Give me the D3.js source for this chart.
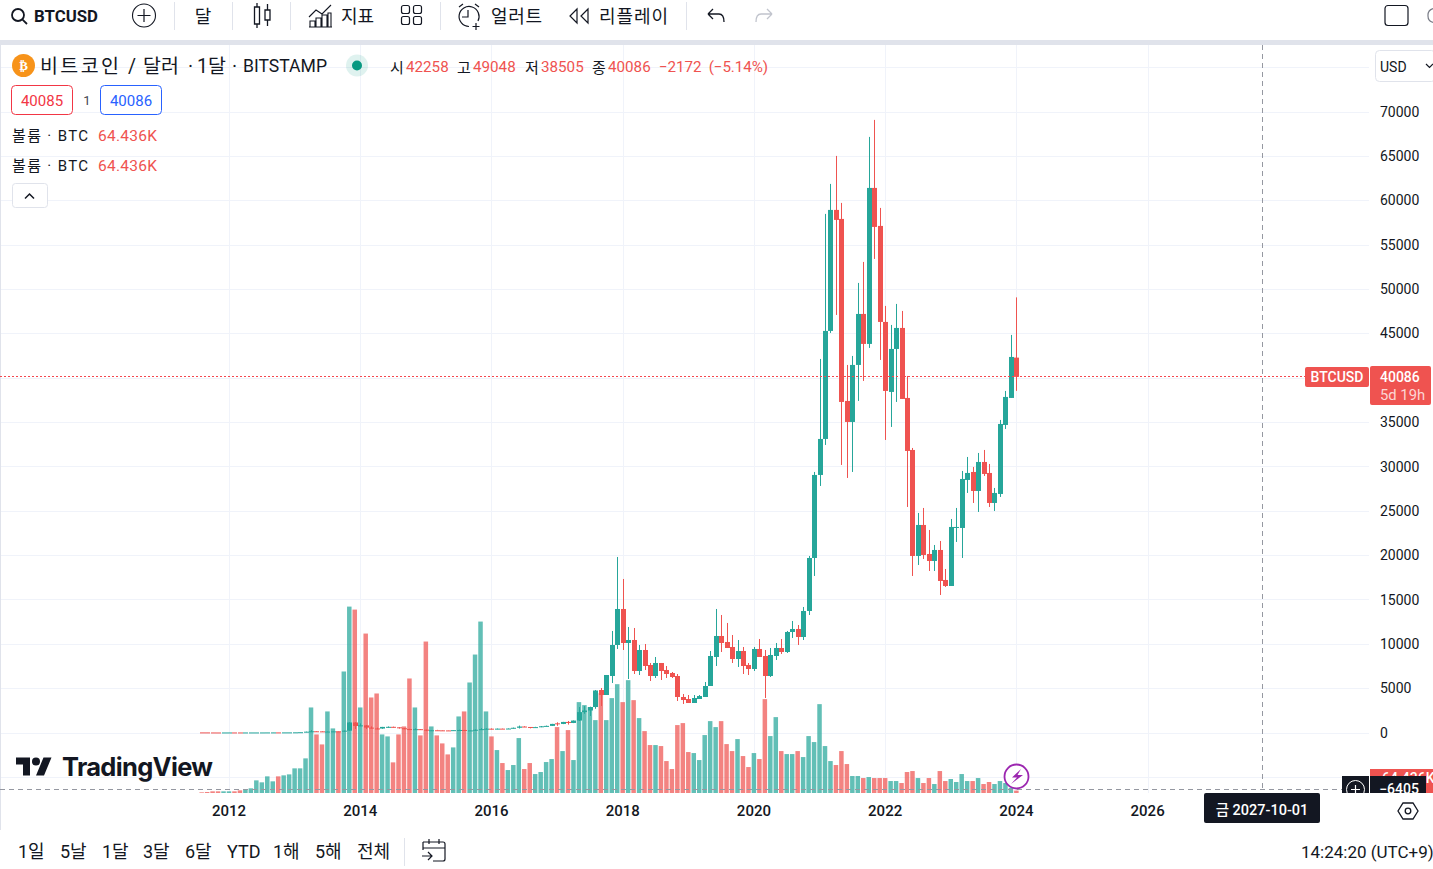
<!DOCTYPE html>
<html>
<head>
<meta charset="utf-8">
<script src="https://cdn.jsdelivr.net/npm/d3@7"></script>
<style>
  html, body { margin: 0; background: #fff; overflow: hidden; }
  svg { display: block; }
  text { font-family: Roboto, "Noto Sans CJK KR", sans-serif; fill: #131722; }
  .axis path, .axis line { display: none; }
</style>
</head>
<body>
<svg id="chart" width="1433" height="869"></svg>
<script>
// monthly BTCUSD candles, first one is 2011-08, last one is 2024-01
const opens = [
  11, 10, 5, 3, 3,
  5, 5.5, 4.9, 4.9, 5, 5.1, 5.2, 6.7, 9.3, 10.2, 10, 12.5,
  13.5, 20, 33, 93, 139, 129, 90, 105, 128, 127, 205, 1130,
  733, 805, 550, 458, 445, 630, 640, 585, 480, 388, 338, 375,
  318, 217, 254, 245, 236, 229, 264, 284, 229, 236, 311, 377,
  431, 368, 436, 416, 448, 532, 673, 622, 575, 608, 700, 745,
  1033, 965, 1190, 1075, 1348, 2300, 2480, 2870, 4791, 4227, 6369, 9864,
  13923, 10090, 10428, 6933, 9300, 7610, 6369, 7835, 7046, 6708, 6369, 4002,
  3776, 3325, 3776, 4002, 5242, 8511, 10879, 10202, 9639, 8286, 9188, 7610,
  7158, 9413, 8624, 6369, 8624, 9526, 9075, 11330, 11668, 10766, 13697, 19672,
  29030, 33089, 45265, 58906, 57891, 37373, 35005, 41432, 47180, 43800, 61386, 57102,
  46279, 38388, 43235, 45602, 37711, 31848, 19898, 23393, 20123, 19334, 20574, 17193,
  16516, 23055, 23055, 28466, 29368, 27226, 30495, 29256, 25873, 26888, 34667, 37711,
  42258
];
const highs = [
  12, 10, 5.5, 3.5, 5,
  7, 6.5, 5.5, 5.4, 5.3, 5.6, 7, 9.4, 15.4, 12.4, 13, 13.5,
  20, 32, 95, 266, 140, 130, 110, 130, 145, 215, 1163, 1163,
  1020, 850, 690, 550, 630, 680, 660, 600, 495, 420, 458, 385,
  320, 268, 300, 265, 255, 270, 317, 286, 247, 335, 500, 470,
  462, 448, 440, 470, 550, 780, 704, 620, 640, 730, 780, 975,
  1150, 1200, 1300, 1355, 2874, 2980, 2910, 4791, 5016, 6482, 11443, 19785,
  17305, 11894, 11781, 9864, 9977, 7835, 8511, 7835, 7497, 6820, 6595, 4340,
  4227, 4227, 4227, 5693, 9188, 13923, 13246, 12345, 10992, 10428, 9639, 7835,
  9639, 10541, 9300, 9526, 10090, 10541, 11443, 12570, 12119, 14149, 19898, 29370,
  42108, 58455, 61837, 64994, 59695, 41432, 42446, 50676, 53043, 67136, 69053, 59131,
  48083, 45941, 48309, 47519, 40191, 32074, 24746, 25310, 22829, 21138, 21589, 18432,
  24069, 25310, 29481, 31059, 29932, 31510, 31849, 30270, 27564, 35231, 38500, 44814,
  49048
];
const lows = [
  9, 4, 2, 2, 3,
  4, 4, 4.7, 4.8, 4.9, 5, 5.2, 6.5, 7, 9.6, 10, 10,
  13, 19, 33, 50, 80, 65, 65, 100, 110, 105, 205, 395,
  710, 400, 450, 355, 420, 525, 560, 440, 375, 275, 318, 305,
  150, 210, 235, 215, 226, 225, 253, 160, 225, 235, 305, 347,
  350, 361, 395, 406, 435, 450, 605, 465, 570, 600, 680, 740,
  750, 945, 890, 1060, 1296, 2110, 1860, 2670, 2987, 4227, 5580, 9413,
  9300, 6030, 6595, 6482, 7046, 5805, 6144, 5918, 6144, 6144, 3551, 3213,
  3325, 3325, 3776, 4002, 5242, 7497, 9075, 9526, 7835, 7384, 6595, 6482,
  6933, 8511, 3889, 6257, 8173, 8850, 8963, 10654, 9864, 10428, 13246, 17643,
  27790, 32412, 45039, 47068, 30157, 28692, 29368, 37373, 39627, 43348, 53382, 41995,
  32976, 34442, 37260, 37598, 25422, 17643, 18883, 19560, 18207, 18207, 15501, 16403,
  16516, 21477, 19673, 27001, 25873, 24859, 28917, 25422, 24972, 26550, 34216, 37711,
  38505
];
const closes = [
  10, 5, 3, 2.9, 4.7,
  5.5, 4.9, 4.85, 5, 5.1, 5.2, 6.7, 9.3, 10, 10, 12.5, 13.4,
  20, 33, 93, 139, 129, 90, 105, 128, 127, 205, 1130, 733,
  805, 550, 458, 445, 630, 640, 585, 480, 388, 338, 375, 318,
  217, 254, 245, 236, 229, 264, 284, 229, 236, 311, 377, 430,
  368, 436, 416, 448, 532, 673, 622, 575, 608, 700, 745, 968,
  965, 1190, 1075, 1348, 2300, 2480, 2870, 4735, 4227, 6482, 9864, 13923,
  10090, 10428, 6933, 9300, 7497, 6369, 7835, 6933, 6595, 6257, 4002, 3663,
  3325, 3889, 4114, 5242, 8624, 10879, 10090, 9526, 8286, 9188, 7497, 7158,
  9413, 8511, 6369, 8737, 9526, 9075, 11330, 11668, 10766, 13697, 19672, 29030,
  33089, 45265, 58906, 57779, 37260, 35005, 41432, 47180, 43800, 61386, 56989, 46279,
  38500, 43235, 45602, 37598, 31736, 19898, 23393, 20011, 19334, 20574, 17080, 16516,
  23168, 23168, 28579, 29256, 27226, 30495, 29143, 25873, 27001, 34780, 37824, 42333,
  40086
];
// volume in thousand BTC
const volumes = [
  18, 27, 45, 45, 45,
  45, 45, 71, 98, 125, 338, 285, 445, 312, 445, 472, 498,
  659, 659, 926, 2287, 1566, 1299, 2181, 1727, 1647, 3249, 4984, 4904,
  2287, 4263, 2554, 2661, 1566, 1513, 819, 1566, 1780, 3062, 2287, 1540,
  4050, 1780, 1540, 1326, 1032, 1219, 2047, 2181, 2955, 3702, 4584, 2181,
  1513, 1148, 801, 614, 748, 1469, 641, 801, 507, 561, 828, 908,
  1762, 1121, 1682, 881, 2430, 2350, 2296, 1949, 2670, 1949, 2537, 2910,
  2430, 3017, 2483, 2003, 1655, 1282, 1282, 1255, 854, 641, 1816, 1869,
  1095, 1068, 881, 1549, 1922, 1762, 1922, 1308, 1121, 1442, 988, 694,
  1068, 908, 2510, 1522, 2029, 1121, 1041, 1041, 1121, 961, 1522, 1362,
  2376, 1255, 854, 748, 1121, 774, 454, 454, 400, 427, 400, 400,
  400, 320, 320, 267, 561, 587, 400, 267, 400, 240, 587, 320,
  374, 294, 507, 320, 320, 400, 240, 294, 240, 320, 267, 134,
  64.436
];
const priceTicks = [0, 5000, 10000, 15000, 20000, 25000, 30000, 35000, 40000, 45000, 50000, 55000, 60000, 65000, 70000];
const gridPrices = [-5000, ...priceTicks, 75000];
const yearTicks = [2012, 2014, 2016, 2018, 2020, 2022, 2024, 2026];
const rangeButtons = ['1일', '5날', '1달', '3달', '6달', 'YTD', '1해', '5해', '전체'];
const rangeX = [18, 60, 102, 143, 185, 227, 273, 315, 357];
// legend title pieces, with the x they start at
const titleParts = ['비트코인', '/', '달러', '·', '1달', '·', 'BITSTAMP'];
const titleX = [40, 128, 143, 188, 197, 232, 243];

const up = '#26a69a', down = '#ef5350', ink = '#131722', line = '#e0e3eb';
const size = {w: 1433, h: 869};
const pane = {l: 1, r: 1369, t: 45, b: 793};
const svg = d3.select('#chart');

// month index counted from 2011-08
const monthOf = year => (year - 2011) * 12 - 7;
const x = d3.scaleLinear().domain([monthOf(2012), monthOf(2026)]).range([229, 1147.6]);
const y = d3.scaleLinear().domain([0, 70000]).range([732.5, 111.5]);
const v = d3.scaleLinear().domain([0, 5000]).range([pane.b, 606]);

const months = d3.range(closes.length);
const color = i => closes[i] < opens[i] ? down : up;

// panel frame
svg.append('rect').attr('width', size.w).attr('height', size.h).attr('fill', '#fff');
svg.append('rect').attr('y', 40).attr('width', size.w).attr('height', 5).attr('fill', line);
svg.append('rect').attr('y', 40).attr('width', 1).attr('height', 790).attr('fill', line);

// grid
const grid = svg.append('g');
grid.selectAll('line.h').data(gridPrices).join('line').attr('class', 'h')
  .attr('x1', pane.l).attr('x2', pane.r)
  .attr('y1', d => Math.round(y(d)) + .5).attr('y2', d => Math.round(y(d)) + .5)
  .attr('stroke', '#f0f3fa');
grid.selectAll('line.v').data(yearTicks).join('line').attr('class', 'v')
  .attr('x1', d => Math.round(x(monthOf(d))) + .5).attr('x2', d => Math.round(x(monthOf(d))) + .5)
  .attr('y1', pane.t).attr('y2', pane.b)
  .attr('stroke', '#f0f3fa');

// volume bars
svg.append('g').selectAll('rect').data(months).join('rect')
  .attr('x', i => x(i) - 2.25)
  .attr('width', 4.5)
  .attr('y', i => v(volumes[i]))
  .attr('height', i => pane.b - v(volumes[i]))
  .attr('fill', i => color(i))
  .attr('fill-opacity', .72);

// candles
const candles = svg.append('g');
candles.selectAll('line').data(months).join('line')
  .attr('x1', i => Math.round(x(i)) + .5).attr('x2', i => Math.round(x(i)) + .5)
  .attr('y1', i => y(highs[i])).attr('y2', i => y(lows[i]))
  .attr('stroke', i => color(i));
candles.selectAll('rect').data(months).join('rect')
  .attr('x', i => Math.round(x(i)) - 2)
  .attr('width', 5)
  .attr('y', i => y(Math.max(opens[i], closes[i])))
  .attr('height', i => Math.max(1, Math.abs(y(opens[i]) - y(closes[i]))))
  .attr('fill', i => color(i));

// last price line and crosshair
const last = closes[closes.length - 1];
svg.append('line').attr('x1', 0).attr('x2', 1305)
  .attr('y1', Math.floor(y(last)) + .5).attr('y2', Math.floor(y(last)) + .5)
  .attr('stroke', '#f4474f').attr('stroke-dasharray', '2 2')
  .attr('shape-rendering', 'crispEdges');
const crossX = Math.round(x(monthOf(2027) + 9)) + .5;
svg.append('line').attr('x1', crossX).attr('x2', crossX).attr('y1', pane.t).attr('y2', 790)
  .attr('stroke', '#9598a1').attr('stroke-dasharray', '5 4');
svg.append('line').attr('x1', 0).attr('x2', 1342)
  .attr('y1', Math.round(y(-6405)) + .5).attr('y2', Math.round(y(-6405)) + .5)
  .attr('stroke', '#9598a1').attr('stroke-dasharray', '5 4');

// axes
const yAxis = d3.axisRight(y).tickValues(priceTicks).tickFormat(d3.format('d')).tickSize(0).tickPadding(0);
svg.append('g').attr('class', 'axis').attr('transform', 'translate(1380,0.2)').call(yAxis)
  .call(g => g.selectAll('text').attr('font-size', 14).attr('fill', '#131722').style('font-family', 'Roboto'));
const xAxis = d3.axisBottom(x).tickValues(yearTicks.map(monthOf))
  .tickFormat(d => 2011 + (d + 7) / 12).tickSize(0).tickPadding(0);
svg.append('g').attr('class', 'axis').attr('transform', `translate(-0.5,${pane.b + 12})`).call(xAxis)
  .call(g => g.selectAll('text').attr('font-size', 15).attr('font-weight', 500).style('font-family', 'Roboto'));

function label(t, px, py, o = {}) {
  return svg.append('text').attr('x', px).attr('y', py).text(t)
    .attr('font-size', o.size || 14)
    .attr('font-weight', o.weight || 400)
    .attr('text-anchor', o.anchor || 'start')
    .attr('dominant-baseline', 'central')
    .style('fill', o.fill || ink)
    .style('font-family', o.family || null);
}
function icon(d, o = {}) {
  return svg.append('path').attr('d', d).attr('fill', o.fill || 'none')
    .attr('stroke', o.stroke === undefined ? ink : o.stroke)
    .attr('stroke-width', o.width || 1.2)
    .attr('transform', o.at ? `translate(${o.at})` : null);
}
function box(px, py, w, h, o = {}) {
  return svg.append('rect').attr('x', px).attr('y', py).attr('width', w).attr('height', h)
    .attr('rx', o.r === undefined ? 2 : o.r).attr('fill', o.fill || 'none')
    .attr('stroke', o.stroke || 'none');
}

// top toolbar
const korean = '"Noto Sans CJK KR"';
icon('M17 17l-4.2-4.2M14 8A6 6 0 1 1 2 8a6 6 0 0 1 12 0z', {at: [10, 7], width: 1.8});
label('BTCUSD', 34, 15.5, {size: 16.8, weight: 700, family: 'Roboto'});
svg.append('circle').attr('cx', 144).attr('cy', 15.5).attr('r', 11.5).attr('fill', 'none').attr('stroke', ink).attr('stroke-width', 1.1);
icon('M144 9v13M137.5 15.5h13');
[174, 232, 290, 440, 686].forEach(sx => {
  svg.append('line').attr('x1', sx + .5).attr('x2', sx + .5).attr('y1', 2).attr('y2', 30).attr('stroke', line);
});
label('달', 203, 15, {size: 18, anchor: 'middle', family: korean});
icon('M254.5 7h5v17h-5zM257 3v4M257 24v4M265 10h5v10h-5zM267.5 4v6M267.5 20v6', {width: 1.3});
icon('M310 27v-6h5v6M316 27v-9h5v9M322 27v-12h5v12M328 27v-14h3v14M309 27h23M309 17l7-7 6 4 9-9', {width: 1.1});
label('지표', 341, 15, {size: 18, family: korean}).attr('textLength', 33);
// four squares
[[402, 6], [414, 6], [402, 17], [414, 17]].forEach(p => {
  box(p[0] - .5, p[1] - .5, 8, 8, {stroke: ink, r: 2}).attr('stroke-width', 1.2);
});
icon('M469 26.5a10 10 0 1 1 9-5.5M468 10v7h-6M476 23v7M472.5 26.5h7M459 7l4-3M479 7l-4-3', {width: 1.2});
label('얼러트', 491, 15, {size: 18, family: korean}).attr('textLength', 51);
icon('M577 9l-7 7 7 7zM588 9l-7 7 7 7z', {width: 1.2});
label('리플레이', 599, 15, {size: 18, family: korean}).attr('textLength', 69);
icon('M708 14h11c4 0 5 3 5 8M708 14l5-5M708 14l5 5', {width: 1.3});
icon('M772 14h-11c-4 0-5 3-5 8M772 14l-5-5M772 14l-5 5', {stroke: '#c1c4cd', width: 1.3});
box(1385, 5.5, 23, 20, {stroke: ink, r: 3}).attr('stroke-width', 1.2);
icon('M1433 8.5a7 7 0 0 0-5 7 7 7 0 0 0 5 7', {stroke: '#787b86', width: 1.2});

// legend
svg.append('circle').attr('cx', 23.5).attr('cy', 65.5).attr('r', 11.5).attr('fill', '#f7931a');
label('₿', 23.5, 65.5, {size: 13, weight: 700, anchor: 'middle', fill: '#fff', family: 'DejaVu Sans'});
titleParts.forEach((t, i) => {
  const latin = t === 'BITSTAMP';
  const part = label(t, titleX[i], 66, {size: latin ? 18.5 : 19.5, family: 'Roboto, "Noto Sans CJK KR"'});
  if (latin) part.attr('textLength', 84).attr('lengthAdjust', 'spacingAndGlyphs');
  if (t === '비트코인') part.attr('textLength', 79);
});
svg.append('circle').attr('cx', 357).attr('cy', 65.5).attr('r', 11).attr('fill', '#089981').attr('fill-opacity', .13);
svg.append('circle').attr('cx', 357).attr('cy', 65.5).attr('r', 5).attr('fill', '#089981');

const ohlcNames = ['시', '고', '저', '종'];
const ohlcLast = [opens, highs, lows, closes].map(a => a[a.length - 1]);
const ohlcX = [390, 457, 525, 592];
ohlcNames.forEach((n, i) => {
  label(n, ohlcX[i], 66, {size: 15, fill: '#131722', family: korean});
  label(ohlcLast[i], ohlcX[i] + 16, 66.5, {size: 15.2, fill: down, family: 'Roboto'});
});
label('−2172  (−5.14%)', 659, 66.5, {size: 15.2, fill: down, family: 'Roboto'})
  .style('white-space', 'pre').attr('textLength', 109);

box(11.5, 85.5, 61, 29, {stroke: '#f23645', r: 4, fill: '#fff'});
label('40085', 42, 100.5, {size: 15, anchor: 'middle', fill: '#f23645', family: 'Roboto'});
label('1', 87, 100, {size: 13, anchor: 'middle', fill: '#434651', family: 'Roboto'});
box(100.5, 85.5, 61, 29, {stroke: '#2962ff', r: 4, fill: '#fff'});
label('40086', 131, 100.5, {size: 15, anchor: 'middle', fill: '#2962ff', family: 'Roboto'});

[136, 166].forEach(ly => {
  label('볼륨 · BTC', 12, ly, {size: 15, family: 'Roboto, "Noto Sans CJK KR"'}).attr('textLength', 76);
  label('64.436K', 98, ly, {size: 15.5, fill: down, family: 'Roboto'}).attr('textLength', 59);
});
box(12.5, 183.5, 35, 24, {stroke: line, r: 3, fill: '#fff'});
icon('M25 198.5l4.5-4.5 4.5 4.5', {width: 1.5});

// logo
icon('M14 22H7V11H0V4h14v18zM28 22h-8l7.5-18h8L28 22z', {at: [16, 753.5], fill: ink, stroke: 'none'});
svg.append('circle').attr('cx', 36).attr('cy', 761.5).attr('r', 4).attr('fill', ink);
label('TradingView', 62, 766.5, {size: 25.5, weight: 700, family: 'Inter'}).attr('textLength', 151);

// event badge
svg.append('circle').attr('cx', 1016.5).attr('cy', 776.5).attr('r', 12).attr('fill', '#fff').attr('stroke', '#9c27b0').attr('stroke-width', 1.8);
icon('M1021 769l-9 8.5h5l-6 6.5 12-9h-5.5l3.5-6z', {fill: '#9c27b0', stroke: 'none'});

// price scale labels
box(1375.5, 50.5, 60, 31, {stroke: line, r: 4, fill: '#fff'});
label('USD', 1380, 66.5, {size: 14, family: 'Roboto'});
icon('M1426 64l3.5 3.5 3.5-3.5', {width: 1.2});

box(1305, 367, 64, 20, {fill: down});
label('BTCUSD', 1337, 377, {size: 14, weight: 500, anchor: 'middle', fill: '#fff', family: 'Roboto'});
box(1370, 366, 61, 39, {fill: down});
label(last, 1380, 377, {size: 14, weight: 500, fill: '#fff', family: 'Roboto'});
label('5d 19h', 1380, 395, {size: 14.8, fill: '#fcd5d4', family: 'Roboto'});

box(1370, 769, 63, 24, {fill: down, r: 0});
label('64.436K', 1382, 778, {size: 14, weight: 500, fill: '#fff', family: 'Roboto'});
box(1370, 776, 56, 17, {fill: ink, r: 0});
label('−6405', 1399, 789, {size: 14, weight: 500, anchor: 'middle', fill: '#fff', family: 'Roboto'});
box(1342, 776, 27, 17, {fill: ink, r: 0});
svg.append('circle').attr('cx', 1355.5).attr('cy', 789.5).attr('r', 9).attr('fill', 'none').attr('stroke', '#fff');
icon('M1355.5 785v9M1351 789.5h9', {stroke: '#fff'});

// white strip under the panes so clipped labels end at the time axis
svg.append('rect').attr('x', 1340).attr('y', 793).attr('width', 93).attr('height', 37).attr('fill', '#fff');

// time scale label and gear
box(1204, 793, 116, 30, {fill: ink});
label('금 2027-10-01', 1262, 810, {size: 14.5, weight: 500, anchor: 'middle', fill: '#fff', family: 'Roboto, "Noto Sans CJK KR"'});
icon('M1403 803h10l5 8-5 8h-10l-5-8z', {width: 1.3});
svg.append('circle').attr('cx', 1408).attr('cy', 811).attr('r', 2.8).attr('fill', 'none').attr('stroke', ink).attr('stroke-width', 1.3);

// bottom toolbar
rangeButtons.forEach((t, i) => {
  label(t, rangeX[i], 851.5, {size: 18, family: 'Roboto, "Noto Sans CJK KR"'});
});
svg.append('line').attr('x1', 404.5).attr('x2', 404.5).attr('y1', 838).attr('y2', 866).attr('stroke', line);
icon('M423 842h20a2 2 0 0 1 2 2v15a2 2 0 0 1-2 2h-10M423 842v8M423 848h22M429 839v5M439 839v5M422 856h10M428 852l4 4-4 4', {width: 1.2});
label('14:24:20 (UTC+9)', 1301, 851.5, {size: 17, family: 'Roboto'});
</script>
</body>
</html>
